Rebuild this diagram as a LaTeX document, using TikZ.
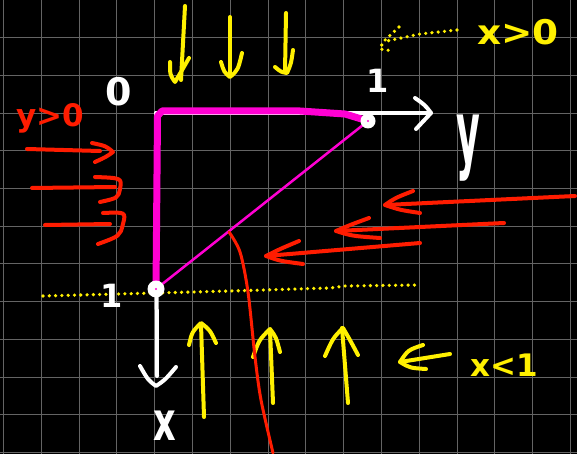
\documentclass[tikz,border=0pt]{standalone}
\usepackage{fontspec}
\setmainfont{DejaVu Sans}
\definecolor{hy}{RGB}{255,240,0}
\definecolor{hr}{RGB}{255,28,0}
\definecolor{hm}{RGB}{255,0,210}
\definecolor{gridc}{RGB}{100,100,100}
\begin{document}
\begin{tikzpicture}[x=1pt,y=-1pt,
  pen/.style={line cap=round,line join=round},
  ypen/.style={pen,draw=hy,line width=4pt},
  rpen/.style={pen,draw=hr,line width=4pt},
  wpen/.style={pen,draw=white,line width=4pt},
  mthick/.style={pen,draw=hm,line width=7pt},
  mthin/.style={pen,draw=hm,line width=2.5pt},
  dots/.style={draw=hy,line width=3.6pt,line cap=round,dash pattern=on 0pt off 6.3pt},
  lbl/.style={inner sep=0pt}]
\useasboundingbox (0,0) rectangle (577,454);
\fill[black] (0,0) rectangle (577,454);
\foreach \i in {0,...,15} \draw[gridc,line width=1pt] ({3.5+37.8*\i},0) -- ({3.5+37.8*\i},454);
\foreach \j in {1,...,12} \draw[gridc,line width=1pt] (0,{37.7*\j}) -- (577,{37.7*\j});

% key points
\coordinate (O) at (156,113);
\coordinate (Yend) at (431,113);
\coordinate (Xend) at (157,376);
\coordinate (A) at (156,289);
\coordinate (B) at (368,121);

% yellow dotted lines
\draw[dots] (43,296) -- (230,291) -- (330,288) -- (345,286) -- (418,285);
\draw[dots] (457,30) -- (420,34) -- (387,41);
\draw[dots] (399,27) -- (383,42) -- (380,49) -- (393,51);

% yellow arrows (top, pointing down)
\draw[ypen] (185,6) -- (181,80);
\draw[ypen] (170,62) .. controls (170,75) .. (175,82) .. controls (181,72) .. (189,58);
\draw[ypen] (230,17) -- (230,75);
\draw[ypen] (221,62) .. controls (224,72) .. (230,77) .. controls (238,70) .. (242,53);
\draw[ypen] (286,13) -- (285,72);
\draw[ypen] (275,67) .. controls (281,72) .. (287,73) .. controls (291,64) .. (293,50);
% yellow arrows (bottom, pointing up)
\draw[ypen] (204,417) -- (201,324);
\draw[ypen] (189,345) .. controls (192,332) .. (201,323) .. controls (210,330) .. (216,343);
\draw[ypen] (273,403) -- (270,330);
\draw[ypen] (253,357) .. controls (259,340) .. (270,329) .. controls (276,337) .. (280,352);
\draw[ypen] (348,403) -- (342,328);
\draw[ypen] (325,356) .. controls (333,338) .. (343,328) .. controls (350,340) .. (358,355);
% yellow arrow to x<1
\draw[ypen] (450,354) -- (400,362);
\draw[ypen] (423,345) .. controls (408,350) .. (400,362) .. controls (410,368) .. (426,369);

% white axes
\draw[wpen] (O) -- (Yend);
\draw[wpen] (415,98) .. controls (425,105) .. (Yend) .. controls (424,121) .. (416,129);
\draw[wpen] (O) -- (Xend);
\draw[wpen] (140,366) .. controls (148,380) .. (156,386) .. controls (165,380) .. (176,367);

% magenta triangle
\draw[mthick] (A) -- (157.5,116) -- (162,111) -- (300,111) -- (345,114) -- (B);
\draw[mthin] (A) -- (B);
\fill[white] (B) circle (7.5);
\fill[white] (A) circle (8.5);
\fill[hm] (B) circle (1.2);
\fill[hm] (A) circle (1.2);

% red arrows to the right
\draw[rpen] (27,149) -- (100,151);
\draw[rpen] (92,143) .. controls (106,146) .. (113,152) .. controls (106,157) .. (95,162);
\draw[rpen] (32,188) -- (115,187);
\draw[rpen] (95,177) .. controls (122,178) .. (120,189) .. controls (118,198) .. (100,202);
\draw[rpen] (45,225) -- (110,224);
\draw[rpen] (103,213) .. controls (126,212) .. (123,224) .. controls (120,236) .. (98,244);
% red arrows to the left
\draw[rpen] (575,196) -- (385,205);
\draw[rpen] (413,191) .. controls (395,198) .. (385,205) .. controls (400,210) .. (420,213);
\draw[rpen] (504,223) -- (336,231);
\draw[rpen] (369,218) .. controls (350,225) .. (336,231) .. controls (352,236) .. (380,238);
\draw[rpen] (420,243) -- (266,256);
\draw[rpen] (299,241) .. controls (280,249) .. (266,256) .. controls (280,261) .. (303,264);
% red curve
\draw[pen,draw=hr,line width=3pt] plot[smooth] coordinates {(229,232) (240,252) (248,292) (255,357) (261,400) (273,453)};

% labels
\node[lbl,text=white,font=\bfseries\fontsize{38}{38}\selectfont] (zero) at (119,92) {0};
\node[lbl,text=white,font=\bfseries\fontsize{32}{32}\selectfont] (oneY) at (378,81) {1};
\node[lbl,text=white,font=\bfseries\fontsize{32}{32}\selectfont] (oneX) at (112,296) {1};
\node[lbl,text=white,font=\bfseries\fontsize{87}{87}\selectfont] (ylab) at (468,148) {\scalebox{0.42}[1]{y}};
\node[lbl,text=white,font=\bfseries\fontsize{54}{54}\selectfont] (xlab) at (165,426) {\scalebox{0.65}[1]{x}};
\node[lbl,text=hr,font=\bfseries\fontsize{31}{31}\selectfont] (ypos) at (50,118) {y>0};
\node[lbl,text=hy,font=\bfseries\fontsize{34}{34}\selectfont] (xpos) at (518,32) {\scalebox{1.1}[1]{x>0}};
\node[lbl,text=hy,font=\bfseries\fontsize{31}{31}\selectfont] (xlt) at (504,365) {x<1};
\end{tikzpicture}
\end{document}
